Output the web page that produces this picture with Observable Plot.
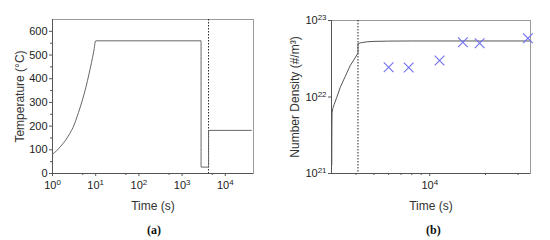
<!DOCTYPE html>
<html><head><meta charset="utf-8">
<script src="https://cdn.jsdelivr.net/npm/d3@7"></script>
<script src="https://cdn.jsdelivr.net/npm/@observablehq/plot@0.6"></script>
<style>
body{margin:0;background:#fff;}
#wrap{position:relative;width:550px;height:240px;overflow:hidden;}
.panel{position:absolute;top:0;}
.cap{position:absolute;top:223px;font-family:"Liberation Serif","DejaVu Serif",serif;font-weight:bold;font-size:12px;color:#111;}
</style></head><body>
<div id="wrap">
  <div id="pa" class="panel" style="left:0"></div>
  <div id="pb" class="panel" style="left:275px"></div>
  <div class="cap" style="left:147px">(a)</div>
  <div class="cap" style="left:426px">(b)</div>
</div>
<script>
// ---- Panel (a): temperature profile ----
const tempTime  = [1, 1.25, 1.5, 2, 2.5, 3, 4, 5, 6, 7, 8, 9, 10, 2750, 2750, 4100, 4100, 40000];
const tempValue = [82, 96, 112, 140, 168, 195, 258, 314, 368, 420, 468, 515, 560, 560, 27, 27, 182, 182];
const tempXTicks = [1, 10, 100, 1000, 10000];
const tempXTickLabels = ["10^0", "10^1", "10^2", "10^3", "10^4"];
const tempXMinor = [5, 50, 500, 5000];
const tempYTicks = [0, 100, 200, 300, 400, 500, 600];
const tempYMinor = [50, 150, 250, 350, 450, 550];
const quenchTime = 4100;

// ---- Panel (b): number density ----
const ndTime  = [2960, 2962, 2966, 2972, 3000, 3050, 3150, 3290, 3500, 3725, 3950, 4100, 4100, 4300, 4600, 5000, 6000, 8000, 35000];
const ndValue = [1.3e21, 2.5e21, 4.5e21, 6.3e21, 7.1e21, 8.0e21, 9.9e21, 1.34e22, 1.86e22, 2.58e22, 3.23e22, 3.75e22, 5.0e22, 5.15e22, 5.27e22, 5.33e22, 5.38e22, 5.4e22, 5.4e22];
const expTime  = [6000, 7700, 11300, 15100, 18600, 33900];
const expValue = [2.45e22, 2.43e22, 3.0e22, 5.2e22, 5.05e22, 5.85e22];
const ndXTicks = [10000];
const ndXTickLabels = ["10^4"];
const ndXMinor = [4000, 5000, 6000, 7000, 8000, 9000, 20000, 30000];
const ndYTicks = [1e21, 1e22, 1e23];
const ndYTickLabels = ["10^21", "10^22", "10^23"];

const font = "Liberation Sans, Arial, Helvetica, sans-serif";

function supify(svg) {
  d3.select(svg).selectAll("text").each(function() {
    const t = this.textContent;
    const m = /^10\^(\d+)$/.exec(t);
    if (m) {
      const s = d3.select(this);
      s.text("10");
      s.append("tspan").attr("dy", "-0.5em").attr("font-size", "0.72em").text(m[1]);
    }
  });
  d3.select(svg).selectAll('g[aria-label="x-axis label"] text, g[aria-label="y-axis label"] text')
    .attr("font-size", "12px").attr("fill", "#333");
  d3.select(svg).selectAll('g[aria-label="x-axis label"], g[aria-label="y-axis label"]')
    .attr("font-size", "12px");
}

const tempData = tempTime.map((t, i) => ({t, v: tempValue[i]}));
const plotA = Plot.plot({
  width: 275, height: 220,
  marginLeft: 52, marginRight: 22, marginTop: 19, marginBottom: 47,
  style: {fontFamily: font, fontSize: "11px", color: "#222", background: "transparent"},
  x: {type: "log", domain: [1, 45000]},
  y: {domain: [0, 650]},
  marks: [
    Plot.frame({stroke: "#9a9a9a"}),
    Plot.ruleX([1], {stroke: "#555"}),
    Plot.ruleY([0], {stroke: "#555"}),
    Plot.axisX(tempXTicks, {tickSize: 3, tickPadding: 5, stroke: "#555",
      tickFormat: d => tempXTickLabels[tempXTicks.indexOf(d)],
      label: "Time (s)", labelAnchor: "center", labelOffset: 36, labelArrow: "none"}),
    Plot.axisX(tempXMinor, {tickSize: 2, stroke: "#555", tickFormat: () => "", label: null}),
    Plot.axisY(tempYTicks, {tickSize: 3, tickPadding: 2, stroke: "#555",
      label: "Temperature (°C)", labelAnchor: "center", labelOffset: 37, labelArrow: "none"}),
    Plot.axisY(tempYMinor, {tickSize: 2, stroke: "#555", tickFormat: () => "", label: null}),
    Plot.ruleX([quenchTime], {stroke: "#222", strokeDasharray: "1.5,1.5"}),
    Plot.line(tempData, {x: "t", y: "v", stroke: "#666", strokeWidth: 1, curve: "monotone-x"})
  ]
});
supify(plotA);
document.getElementById("pa").appendChild(plotA);

const ndData = ndTime.map((t, i) => ({t, n: ndValue[i]}));
const expData = expTime.map((t, i) => ({t, n: expValue[i]}));
const plotB = Plot.plot({
  width: 275, height: 220,
  marginLeft: 56, marginRight: 20, marginTop: 20, marginBottom: 47,
  style: {fontFamily: font, fontSize: "11px", color: "#222", background: "transparent"},
  x: {type: "log", domain: [2950, 35000]},
  y: {type: "log", domain: [1e21, 1e23]},
  marks: [
    Plot.frame({stroke: "#9a9a9a"}),
    Plot.ruleX([2950], {stroke: "#555"}),
    Plot.ruleY([1e21], {stroke: "#555"}),
    Plot.axisX(ndXTicks, {tickSize: 3, tickPadding: 5, stroke: "#555",
      tickFormat: d => ndXTickLabels[ndXTicks.indexOf(d)],
      label: "Time (s)", labelAnchor: "center", labelOffset: 36, labelArrow: "none"}),
    Plot.axisX(ndXMinor, {tickSize: 2, stroke: "#555", tickFormat: () => "", label: null}),
    Plot.axisY(ndYTicks, {tickSize: 3, tickPadding: 2, stroke: "#555",
      tickFormat: d => ndYTickLabels[ndYTicks.indexOf(d)],
      label: "Number Density (#/m³)", labelAnchor: "center", labelOffset: 41, labelArrow: "none"}),
    Plot.ruleX([quenchTime], {stroke: "#222", strokeDasharray: "1.5,1.5"}),
    Plot.line(ndData, {x: "t", y: "n", stroke: "#555", strokeWidth: 1}),
    Plot.dot(expData, {x: "t", y: "n", symbol: "times", r: 4.5, stroke: "#6f6ff0", strokeWidth: 1.1})
  ]
});
supify(plotB);
document.getElementById("pb").appendChild(plotB);
</script>
</body></html>
